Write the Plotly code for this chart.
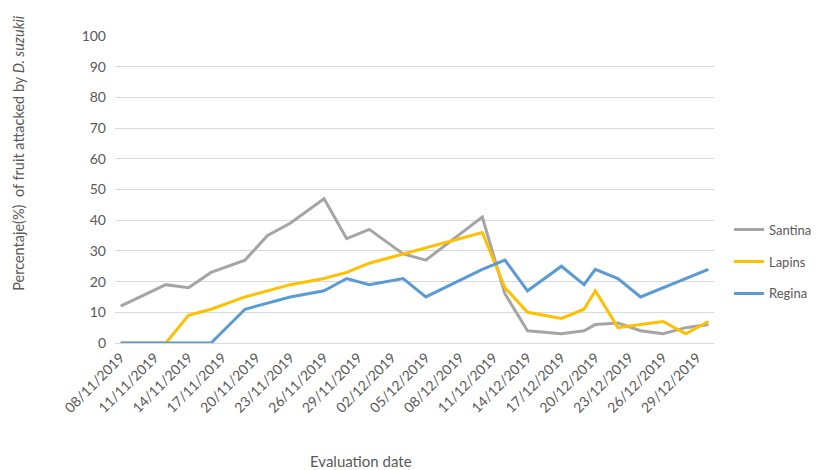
import plotly.graph_objects as go

# Evaluation dates (dd/mm/yyyy) and percentage of attacked fruit per cultivar
dates = [
    "08/11/2019", "12/11/2019", "14/11/2019", "16/11/2019", "19/11/2019",
    "21/11/2019", "23/11/2019", "26/11/2019", "28/11/2019", "30/11/2019",
    "03/12/2019", "05/12/2019", "10/12/2019", "12/12/2019", "14/12/2019",
    "17/12/2019", "19/12/2019", "20/12/2019", "22/12/2019", "24/12/2019",
    "26/12/2019", "28/12/2019", "30/12/2019",
]
santina = [12, 19, 18, 23, 27, 35, 39, 47, 34, 37, 29, 27, 41, 16, 4, 3, 4, 6, 6.5, 4, 3, 5, 6]
lapins = [0, 0, 9, 11, 15, 17, 19, 21, 23, 26, 29, 31, 36, 18, 10, 8, 11, 17, 5, 6, 7, 3, 7]
regina = [0, 0, 0, 0, 11, 13, 15, 17, 21, 19, 21, 15, 24, 27, 17, 25, 19, 24, 21, 15, 18, 21, 24]

y_ticks = list(range(0, 101, 10))


def iso(d):
    dd, mm, yy = d.split("/")
    return f"{yy}-{mm}-{dd}"


x = [iso(d) for d in dates]

series = [
    ("Santina", santina, "#a5a5a5"),
    ("Lapins", lapins, "#ffc000"),
    ("Regina", regina, "#5b9bd5"),
]

fig = go.Figure()
for name, vals, color in series:
    fig.add_trace(go.Scatter(
        x=x, y=vals, name=name, mode="lines",
        line=dict(color=color, width=3),
        legendgroup=name,
    ))

font_family = "Lato, 'Open Sans', sans-serif"
text_color = "#595959"

fig.update_layout(
    width=829, height=470,
    margin=dict(l=115, r=109, t=36, b=127),
    paper_bgcolor="white", plot_bgcolor="white",
    font=dict(family=font_family, color=text_color, size=13),
    showlegend=True,
    legend=dict(
        x=1.025, xanchor="left", y=0.265, yanchor="middle",
        font=dict(size=13, color=text_color),
        tracegroupgap=12,
        bgcolor="rgba(0,0,0,0)",
    ),
    xaxis=dict(
        type="date",
        range=["2019-11-07 12:00", "2019-12-30 12:00"],
        tick0="2019-11-08", dtick=3 * 86400000,
        tickformat="%d/%m/%Y", tickangle=-45,
        tickfont=dict(size=14, color=text_color),
        showgrid=False, zeroline=False,
        showline=True, linecolor="#d9d9d9", linewidth=1,
        ticks="",
    ),
    yaxis=dict(
        range=[0, 100], tickvals=y_ticks,
        tickfont=dict(size=14, color=text_color),
        showgrid=True, gridcolor="#d9d9d9", gridwidth=1,
        zeroline=False, showline=False, ticks="",
        ticklabelstandoff=8,
    ),
)

fig.add_annotation(
    text="Percentaje(%)  of fruit attacked by <i>D. suzukii</i>",
    xref="paper", yref="paper", x=-0.16, y=0.62,
    xanchor="center", yanchor="middle", textangle=-90,
    showarrow=False, font=dict(size=14.5, color=text_color),
)
fig.add_annotation(
    text="Evaluation date",
    xref="paper", yref="paper", x=0.41, y=-0.385,
    xanchor="center", yanchor="middle",
    showarrow=False, font=dict(size=15, color=text_color),
)

fig.write_html("out.html")
